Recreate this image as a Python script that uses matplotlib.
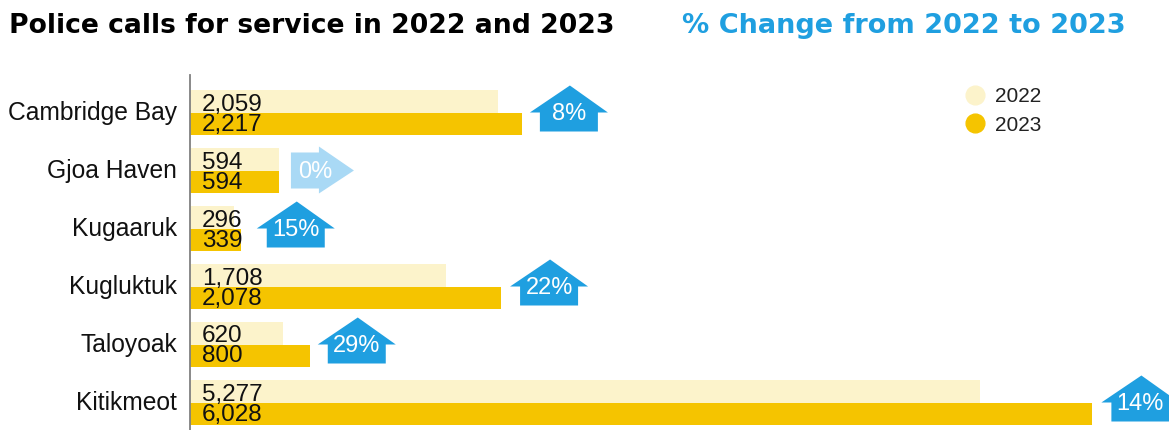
import matplotlib
matplotlib.use('Agg')
import matplotlib.pyplot as plt
import matplotlib.transforms as mtrans
from matplotlib.lines import Line2D
from matplotlib.patches import Polygon

# data
places = ['Cambridge Bay', 'Gjoa Haven', 'Kugaaruk', 'Kugluktuk', 'Taloyoak', 'Kitikmeot']
calls_2022 = [2059, 594, 296, 1708, 620, 5277]
calls_2023 = [2217, 594, 339, 2078, 800, 6028]
pct_change = [8, 0, 15, 22, 29, 14]

PALE = '#FCF3CB'
GOLD = '#F5C400'
BLUE = '#1F9FE0'
PALE_BLUE = '#A9D9F5'

W, H = 1169, 430

# arrow outlines in pixels, from the left edge, y up from the row centre
ARROW_UP = [(0, 0), (40, 27), (78, 0), (68, 0), (68, -19), (10, -19), (10, 0)]
ARROW_RIGHT = [(0, 18), (28, 18), (28, 24), (63, 0), (28, -23), (28, -18), (0, -18)]
# gap between bar end and arrow
arrow_gap = [8, 12, 16, 9, 8, 9]


def draw_arrow(ax, value, row, pct, gap):
    pts = ARROW_UP if pct != 0 else ARROW_RIGHT
    color = BLUE if pct != 0 else PALE_BLUE
    width = max(p[0] for p in pts)
    base = ax.transData.transform((value, row))
    tr = mtrans.Affine2D().translate(base[0] + gap, base[1])
    ax.add_patch(Polygon(pts, closed=True, facecolor=color, edgecolor='none',
                         transform=tr, clip_on=False))
    ax.annotate('%d%%' % pct, xy=(value, row), xytext=(gap + width * (0.5 if pct else 0.39), -1),
                textcoords='offset pixels', ha='center', va='center',
                color='white', fontsize=17)


plt.rcParams['font.family'] = ['Liberation Sans', 'DejaVu Sans']

fig = plt.figure(figsize=(W / 100, H / 100), dpi=100)
ax = fig.add_axes([190 / W, 0, (W - 190) / W, (H - 75) / H])
ax.set_xlim(0, (W - 190) / 0.1497)
ax.set_ylim((430 - 112.5) / 58, (75 - 112.5) / 58)

rows = list(range(len(places)))
bar_h = 0.395
ax.barh([r - bar_h / 2 for r in rows], calls_2022, height=bar_h, color=PALE)
ax.barh([r + bar_h / 2 for r in rows], calls_2023, height=bar_h, color=GOLD)

for r in rows:
    ax.annotate(f'{calls_2022[r]:,}', xy=(0, r), xytext=(12, 8), textcoords='offset pixels',
                ha='left', va='center', fontsize=17.5, color='#111111')
    ax.annotate(f'{calls_2023[r]:,}', xy=(0, r), xytext=(12, -12), textcoords='offset pixels',
                ha='left', va='center', fontsize=17.5, color='#111111')
    draw_arrow(ax, max(calls_2022[r], calls_2023[r]), r, pct_change[r], arrow_gap[r])

ax.set_yticks(rows)
ax.set_yticklabels(places, fontsize=17.7, color='#111111')
ax.tick_params(axis='y', length=0, pad=9.5)
shift = mtrans.ScaledTranslation(0, 2 / 100, fig.dpi_scale_trans)
for label in ax.get_yticklabels():
    label.set_transform(label.get_transform() + shift)
ax.xaxis.set_visible(False)
for s in ['top', 'right', 'bottom']:
    ax.spines[s].set_visible(False)
ax.spines['left'].set_color('#808080')
ax.spines['left'].set_linewidth(1.3)

handles = [Line2D([], [], marker='o', linestyle='none', markersize=13.5, color=PALE, label='2022'),
           Line2D([], [], marker='o', linestyle='none', markersize=13.5, color=GOLD, label='2023')]
fig.legend(handles=handles, loc='center left', bbox_to_anchor=(935 / W, 1 - 111 / H), frameon=False,
           fontsize=15, labelspacing=0.46, handletextpad=0.0, labelcolor='#222222')

fig.text(9 / W, 1 - 26 / H, 'Police calls for service in 2022 and 2023', family='DejaVu Sans',
         fontweight='bold', fontsize=19.15, color='black', va='center', ha='left')
fig.text(682 / W, 1 - 26 / H, '% Change from 2022 to 2023', family='DejaVu Sans',
         fontweight='bold', fontsize=19.5, color=BLUE, va='center', ha='left')

fig.savefig('out.png', dpi=100)
